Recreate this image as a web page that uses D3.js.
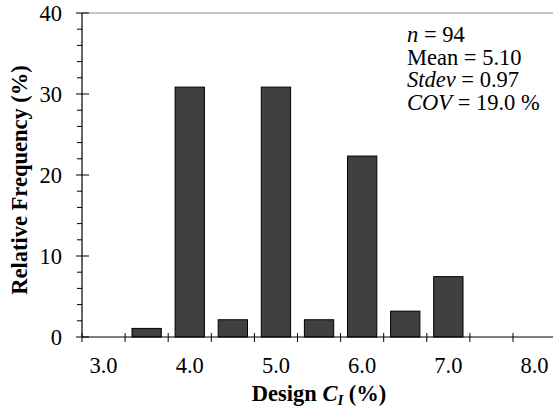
<!DOCTYPE html>
<html>
<head>
<meta charset="utf-8">
<script src="https://cdn.jsdelivr.net/npm/d3@7/dist/d3.min.js"></script>
<style>
  html, body { margin: 0; padding: 0; background: #fff; }
  svg { display: block; }
</style>
</head>
<body>
<svg id="chart" width="553" height="410"></svg>
<script>
// Histogram bins of design C_I (%) and relative frequency (%)
const categories = ["3.0", "3.5", "4.0", "4.5", "5.0", "5.5", "6.0", "6.5", "7.0", "7.5", "8.0"];
const frequency = [0, 1.06, 30.85, 2.13, 30.85, 2.13, 22.34, 3.19, 7.45, 0, 0];
const xTickLabels = ["3.0", "4.0", "5.0", "6.0", "7.0", "8.0"];
const yTicks = [0, 10, 20, 30, 40];
const yMinorTicks = d3.range(0, 41, 2);
const stats = [
  [{ t: "n", i: true }, { t: " = 94" }],
  [{ t: "Mean = 5.10" }],
  [{ t: "Stdev", i: true }, { t: " = 0.97" }],
  [{ t: "COV", i: true }, { t: " = 19.0 %" }]
];

const svg = d3.select("#chart").style("font-family", '"Liberation Serif", serif');
const plotLeft = 82, plotTop = 13, plotBottom = 337, binStep = 43.1;
const plotRight = plotLeft + binStep * categories.length;
const fontSize = 22.5;

const x = d3.scaleBand()
  .domain(categories)
  .range([plotLeft, plotRight])
  .paddingInner(0.32)
  .paddingOuter(0.16);

const y = d3.scaleLinear().domain([0, 40]).range([plotBottom, plotTop]);

// frame top
svg.append("line")
  .attr("x1", plotLeft).attr("x2", plotRight)
  .attr("y1", y(40)).attr("y2", y(40))
  .attr("stroke", "#8c8c8c").attr("stroke-width", 1);

// bars
svg.append("g").selectAll("rect")
  .data(categories.map((c, i) => ({ c, v: frequency[i] })).filter(d => d.v > 0))
  .join("rect")
  .attr("x", d => x(d.c))
  .attr("y", d => y(d.v))
  .attr("width", x.bandwidth())
  .attr("height", d => y(0) - y(d.v))
  .attr("fill", "#404040")
  .attr("stroke", "#000")
  .attr("stroke-width", 1);

// y axis
const gy = svg.append("g");
gy.append("line")
  .attr("x1", plotLeft).attr("x2", plotLeft)
  .attr("y1", y(40)).attr("y2", y(0))
  .attr("stroke", "#000").attr("stroke-width", 1.2);
gy.selectAll("line.minor")
  .data(yMinorTicks.filter(v => v % 10 !== 0))
  .join("line").attr("class", "minor")
  .attr("x1", plotLeft - 5).attr("x2", plotLeft)
  .attr("y1", d => y(d)).attr("y2", d => y(d))
  .attr("stroke", "#000").attr("stroke-width", 1);
gy.selectAll("line.major")
  .data(yTicks)
  .join("line").attr("class", "major")
  .attr("x1", plotLeft - 6).attr("x2", plotLeft + 7)
  .attr("y1", d => y(d)).attr("y2", d => y(d))
  .attr("stroke", "#000").attr("stroke-width", 1);
gy.selectAll("text")
  .data(yTicks)
  .join("text")
  .attr("x", 62)
  .attr("y", d => y(d))
  .attr("dy", "0.34em")
  .attr("text-anchor", "end")
  .attr("font-size", fontSize)
  .text(d => d);

// x axis
const gx = svg.append("g");
gx.append("line")
  .attr("x1", plotLeft).attr("x2", plotRight)
  .attr("y1", y(0)).attr("y2", y(0))
  .attr("stroke", "#000").attr("stroke-width", 1.2);
gx.selectAll("line.tick")
  .data(d3.range(categories.length + 1))
  .join("line").attr("class", "tick")
  .attr("x1", i => plotLeft + i * x.step()).attr("x2", i => plotLeft + i * x.step())
  .attr("y1", y(0) - 4).attr("y2", y(0) + 5)
  .attr("stroke", "#000").attr("stroke-width", 1);
gx.selectAll("text")
  .data(xTickLabels)
  .join("text")
  .attr("x", d => x(d) + x.bandwidth() / 2)
  .attr("y", 373)
  .attr("text-anchor", "middle")
  .attr("font-size", fontSize)
  .text(d => d);

// axis titles
const xt = svg.append("text")
  .attr("x", (plotLeft + plotRight) / 2)
  .attr("y", 401)
  .attr("text-anchor", "middle")
  .attr("font-size", fontSize)
  .attr("font-weight", "bold");
xt.append("tspan").text("Design ");
xt.append("tspan").attr("font-style", "italic").text("C");
xt.append("tspan").attr("font-style", "italic").attr("font-size", 15).attr("dy", 4).text("I");
xt.append("tspan").attr("dy", -4).text(" (%)");

svg.append("text")
  .attr("transform", `translate(27,180) rotate(-90)`)
  .attr("text-anchor", "middle")
  .attr("font-size", fontSize)
  .attr("font-weight", "bold")
  .text("Relative Frequency (%)");

// summary statistics, one text block with a line per statistic
const st = svg.append("text")
  .attr("x", 407)
  .attr("y", 42)
  .attr("font-size", fontSize);
stats.forEach((line, k) => {
  line.forEach((p, j) => {
    const ts = st.append("tspan")
      .attr("font-style", p.i ? "italic" : null)
      .text(p.t);
    if (j === 0 && k > 0) ts.attr("x", 407).attr("dy", 22.5);
  });
});
</script>
</body>
</html>
